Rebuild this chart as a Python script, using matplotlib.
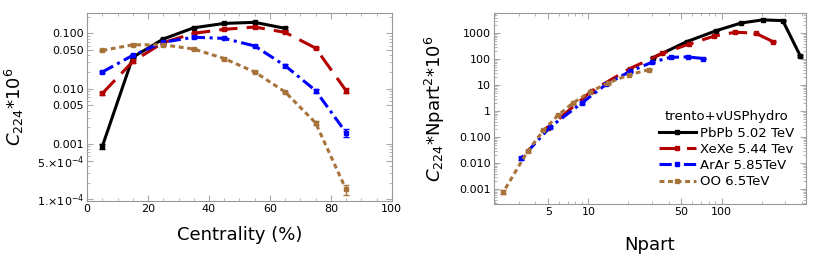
import matplotlib
matplotlib.use("Agg")
import matplotlib.pyplot as plt
import matplotlib.ticker as mticker
import numpy as np

# centrality bins (%)
cent = [5, 15, 25, 35, 45, 55, 65, 75, 85]

# C224*1e6 vs centrality
c_pbpb = [0.00091, 0.037, 0.079, 0.126, 0.151, 0.158, 0.123]
c_xexe = [0.0082, 0.031, 0.068, 0.100, 0.118, 0.130, 0.104, 0.054, 0.0092]
c_arar = [0.020, 0.040, 0.069, 0.085, 0.081, 0.059, 0.026, 0.0092, 0.0016]
c_oo = [0.049, 0.062, 0.062, 0.052, 0.035, 0.020, 0.0087, 0.0024, 0.00015]

# relative errors (rough, from the error bar caps)
e_pbpb = [0.10, 0.04, 0.04, 0.03, 0.03, 0.03, 0.06]
e_xexe = [0.08, 0.05, 0.04, 0.03, 0.03, 0.03, 0.04, 0.05, 0.10]
e_arar = [0.06, 0.05, 0.04, 0.04, 0.04, 0.04, 0.06, 0.08, 0.15]
e_oo = [0.04, 0.04, 0.04, 0.04, 0.04, 0.05, 0.06, 0.08, 0.20]

# Npart for each bin
n_pbpb = [389, 288, 203, 140, 91, 55, 30.6]
n_xexe = [242, 180, 127, 88, 57, 36, 20.4, 10.6, 5.0]
n_arar = [73, 55.5, 41.5, 29.8, 20.5, 13.6, 8.9, 5.15, 3.14]
n_oo = [28.4, 20.2, 14.0, 10.2, 7.6, 5.9, 4.6, 3.5, 2.3]

labels = ["PbPb 5.02 TeV", "XeXe 5.44 Tev", "ArAr 5.85TeV", "OO 6.5TeV"]
colors = ["black", "#b30000", "#0000ff", "#a8733a"]
styles = ["-", (0, (6, 3)), (0, (4, 1.5, 1, 1.5)), (0, (1.6, 1.2))]

series = [(c_pbpb, e_pbpb, n_pbpb), (c_xexe, e_xexe, n_xexe),
          (c_arar, e_arar, n_arar), (c_oo, e_oo, n_oo)]

plt.rcParams["font.family"] = "DejaVu Sans"
fig = plt.figure(figsize=(8.3, 2.6), dpi=100)
ax1 = fig.add_axes([0.105, 0.227, 0.367, 0.723])
ax2 = fig.add_axes([0.595, 0.215, 0.376, 0.735])

for (c, e, n), col, ls, lab in zip(series, colors, styles, labels):
    c = np.array(c); e = np.array(e) * c; n = np.array(n)
    x = cent[:len(c)]
    ax1.errorbar(x, c, yerr=e, color=col, ls=ls, lw=2.2, marker="s", ms=3,
                 capsize=2, elinewidth=1, label=lab)
    y2 = c * n**2
    ax2.errorbar(n, y2, yerr=e * n**2, color=col, ls=ls, lw=2.2, marker="s", ms=3,
                 capsize=2, elinewidth=1, label=lab)

for ax in (ax1, ax2):
    for s in ax.spines.values():
        s.set_color("#999999")
    ax.tick_params(which="both", direction="in", color="#aaaaaa", labelsize=8,
                   top=True, right=True, labeltop=False, labelright=False, pad=2)
    ax.tick_params(which="major", length=4)
    ax.tick_params(which="minor", length=2)

# left panel
ax1.set_yscale("log")
ax1.set_xlim(0, 100)
ax1.set_ylim(9.3e-5, 0.233)
ax1.xaxis.set_major_locator(mticker.MultipleLocator(20))
ax1.xaxis.set_minor_locator(mticker.MultipleLocator(5))
yt = [0.1, 0.05, 0.01, 0.005, 0.001, 5e-4, 1e-4]
ytl = ["0.100", "0.050", "0.010", "0.005", "0.001",
       r"5.$\times$10$^{-4}$", r"1.$\times$10$^{-4}$"]
ax1.set_yticks(yt)
ax1.set_yticklabels(ytl)
ax1.yaxis.set_minor_locator(mticker.LogLocator(base=10, subs=np.arange(2, 10)))
ax1.yaxis.set_minor_formatter(mticker.NullFormatter())
ax1.set_xlabel("Centrality (%)", fontsize=13)
ax1.set_ylabel(r"$C_{224}$*10$^{6}$", fontsize=13)
ax1.yaxis.set_label_coords(-0.2, 0.5)
ax1.xaxis.set_label_coords(0.5, -0.135)

# right panel
ax2.set_xscale("log")
ax2.set_yscale("log")
ax2.set_xlim(1.95, 430)
ax2.set_ylim(2.7e-4, 6000)
ax2.set_xticks([5, 10, 50, 100])
ax2.set_xticklabels(["5", "10", "50", "100"])
ax2.xaxis.set_minor_locator(mticker.LogLocator(base=10, subs=np.arange(2, 10)))
ax2.xaxis.set_minor_formatter(mticker.NullFormatter())
yt2 = [1000, 100, 10, 1, 0.1, 0.01, 0.001]
ax2.set_yticks(yt2)
ax2.set_yticklabels(["1000", "100", "10", "1", "0.100", "0.010", "0.001"])
ax2.yaxis.set_minor_locator(mticker.LogLocator(base=10, subs=np.arange(2, 10)))
ax2.yaxis.set_minor_formatter(mticker.NullFormatter())
ax2.set_xlabel("Npart", fontsize=13)
ax2.set_ylabel(r"$C_{224}$*Npart$^{2}$*10$^{6}$", fontsize=13)
ax2.yaxis.set_label_coords(-0.15, 0.5)
ax2.xaxis.set_label_coords(0.5, -0.165)

h, l = ax2.get_legend_handles_labels()
h = [hh[0] for hh in h]
leg = ax2.legend(h, l, title="trento+vUSPhydro", loc="lower right",
                 bbox_to_anchor=(1.0, 0.02), frameon=False, fontsize=9.5,
                 title_fontsize=9.5, handlelength=2.8, handletextpad=0.3,
                 labelspacing=0.25)

fig.savefig("out.png", dpi=100)
